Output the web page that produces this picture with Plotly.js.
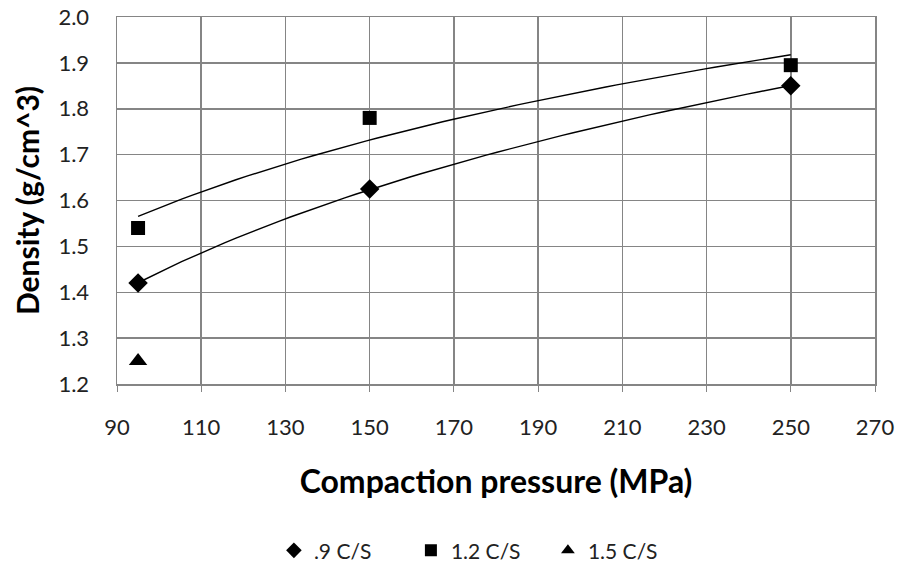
<!DOCTYPE html>
<html>
<head>
<meta charset="utf-8">
<script src="https://cdn.plot.ly/plotly-3.0.1.min.js"></script>
<style>html,body{margin:0;padding:0;background:#fff;}#chart{width:899px;height:566px;}</style>
</head>
<body>
<div id="chart"></div>
<script>
// Data
const pressure_09 = [95, 150, 250];
const density_09 = [1.42, 1.625, 1.85];
const pressure_12 = [95, 150, 250];
const density_12 = [1.54, 1.78, 1.895];
const pressure_15 = [95];
const density_15 = [1.25];
const seriesNames = ['.9 C/S', '1.2 C/S', '1.5 C/S'];
const xTicks = [90, 110, 130, 150, 170, 190, 210, 230, 250, 270];
const yTicks = [1.2, 1.3, 1.4, 1.5, 1.6, 1.7, 1.8, 1.9, 2.0];

// Logarithmic trendline (least squares y = a + b ln x), as in the spreadsheet chart
function logTrend(xs, ys) {
  const lx = xs.map(Math.log);
  const n = xs.length;
  const mx = lx.reduce((s, v) => s + v, 0) / n;
  const my = ys.reduce((s, v) => s + v, 0) / n;
  let sxy = 0, sxx = 0;
  for (let i = 0; i < n; i++) { sxy += (lx[i] - mx) * (ys[i] - my); sxx += (lx[i] - mx) ** 2; }
  const b = sxy / sxx, a = my - b * mx;
  const x0 = Math.min(...xs), x1 = Math.max(...xs);
  const tx = [], ty = [];
  for (let i = 0; i <= 60; i++) { const x = x0 + (x1 - x0) * i / 60; tx.push(x); ty.push(a + b * Math.log(x)); }
  return {tx, ty};
}
const t09 = logTrend(pressure_09, density_09);
const t12 = logTrend(pressure_12, density_12);

const font = 'Lato, "Open Sans", "DejaVu Sans", sans-serif';
const traces = [
  {x: t09.tx, y: t09.ty, mode: 'lines', line: {color: '#000', width: 1.4}, showlegend: false, hoverinfo: 'skip'},
  {x: t12.tx, y: t12.ty, mode: 'lines', line: {color: '#000', width: 1.4}, showlegend: false, hoverinfo: 'skip'},
  {x: pressure_09, y: density_09, mode: 'markers', name: seriesNames[0], marker: {symbol: 'diamond', size: 15, color: '#000'}},
  {x: pressure_12, y: density_12, mode: 'markers', name: seriesNames[1], marker: {symbol: 'square', size: 14, color: '#000'}},
  {x: pressure_15, y: density_15, mode: 'markers', name: seriesNames[2], marker: {symbol: 'triangle-up', size: 16, color: '#000'}}
];

const layout = {
  width: 899, height: 566,
  paper_bgcolor: '#fff', plot_bgcolor: '#fff',
  margin: {l: 117, r: 24, t: 17, b: 182},
  font: {family: font, color: '#222'},
  showlegend: true,
  legend: {orientation: 'h', x: 0.207, xanchor: 'left', yref: 'container', y: 0.027, yanchor: 'middle',
           font: {size: 21, family: font, color: '#222'}, itemwidth: 30, entrywidth: 92, itemsizing: 'constant'},
  xaxis: {
    range: [90, 270], tickvals: xTicks, ticktext: xTicks.map(String),
    showgrid: true, gridcolor: '#858585', gridwidth: 1.5,
    showline: true, linecolor: '#858585', linewidth: 1.5, mirror: true,
    ticks: 'outside', ticklen: 6, tickcolor: '#858585', ticklabelstandoff: 17,
    tickfont: {size: 22, family: font, color: '#222'},
    zeroline: false, automargin: false,
    title: {text: '<b>Compaction pressure (MPa)</b>', font: {size: 32, family: font, color: '#000'}, standoff: 31}
  },
  yaxis: {
    range: [1.2, 2.0], tickvals: yTicks, ticktext: yTicks.map(v => v.toFixed(1)),
    showgrid: true, gridcolor: '#858585', gridwidth: 1.5,
    showline: true, linecolor: '#858585', linewidth: 1.5, mirror: true,
    ticks: '', ticklabelstandoff: 22,
    tickfont: {size: 22, family: font, color: '#222'},
    zeroline: false, automargin: false,
    title: {text: '<b>Density (g/cm^3)</b>', font: {size: 30, family: font, color: '#000'}, standoff: 10}
  }
};

Plotly.newPlot('chart', traces, layout, {displayModeBar: false, staticPlot: true});
</script>
</body>
</html>
